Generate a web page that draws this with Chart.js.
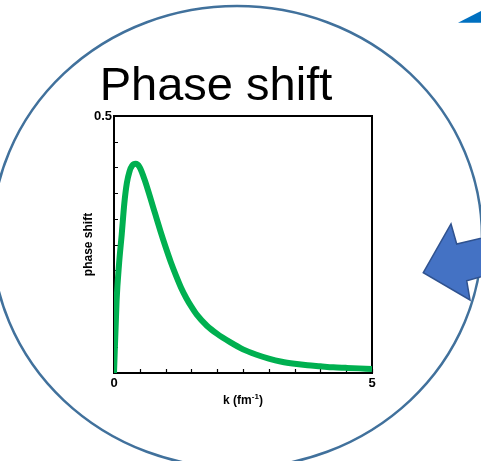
<!DOCTYPE html>
<html>
<head>
<meta charset="utf-8">
<script src="https://cdn.jsdelivr.net/npm/chart.js@4.4.1/dist/chart.umd.min.js"></script>
<style>
  html, body { margin: 0; padding: 0; background: #ffffff; }
  #wrap { width: 481px; height: 461px; position: relative; }
</style>
</head>
<body>
<div id="wrap"><canvas id="c" width="481" height="461"></canvas></div>
<script>
// Wave number k (fm^-1) and phase shift
const kValues = [0, 0.05, 0.1, 0.15, 0.2, 0.25, 0.3, 0.35, 0.42, 0.5, 0.6, 0.7, 0.8, 0.9, 1.0, 1.1, 1.2, 1.3, 1.4, 1.5, 1.6, 1.8, 2.0, 2.25, 2.5, 2.75, 3.0, 3.25, 3.5, 3.75, 4.0, 4.25, 4.5, 4.75, 5.0];
const phaseValues = [0, 0.14, 0.215, 0.27, 0.33, 0.37, 0.392, 0.403, 0.407, 0.400, 0.374, 0.342, 0.309, 0.276, 0.245, 0.216, 0.190, 0.166, 0.146, 0.129, 0.114, 0.092, 0.076, 0.06, 0.046, 0.036, 0.028, 0.022, 0.018, 0.015, 0.013, 0.011, 0.010, 0.009, 0.008];

// Labelled tick values
const xLabelValues = [0, 5];
const yLabelValues = [0.5];

const titleText = 'Phase shift';
const xTitleMain = 'k (fm';
const xTitleSup = '-1';
const yTitleText = 'phase shift';

const points = kValues.map((k, i) => ({ x: k, y: phaseValues[i] }));

// Background decoration: oval outline, arrows and the heading
const decor = {
  id: 'decor',
  beforeDraw(chart) {
    const ctx = chart.ctx;
    ctx.save();
    ctx.fillStyle = '#ffffff';
    ctx.fillRect(0, 0, chart.width, chart.height);

    // oval outline
    ctx.beginPath();
    ctx.ellipse(237, 237, 245, 231, 0, 0, Math.PI * 2);
    ctx.strokeStyle = '#41719C';
    ctx.lineWidth = 2.5;
    ctx.stroke();

    // block arrow pointing down-left
    ctx.beginPath();
    ctx.moveTo(423.3, 272.7);
    ctx.lineTo(451, 224);
    ctx.lineTo(456.7, 244);
    ctx.lineTo(500, 233.8);
    ctx.lineTo(500, 271.4);
    ctx.lineTo(466.7, 280.7);
    ctx.lineTo(470, 300);
    ctx.closePath();
    ctx.fillStyle = '#4472C4';
    ctx.fill();
    ctx.strokeStyle = '#2F528F';
    ctx.lineWidth = 1.5;
    ctx.lineJoin = 'miter';
    ctx.stroke();

    // corner wedge
    ctx.beginPath();
    ctx.moveTo(458, 22.7);
    ctx.lineTo(481, 11);
    ctx.lineTo(481, 22.7);
    ctx.closePath();
    ctx.fillStyle = '#0070C0';
    ctx.fill();

    // heading
    ctx.fillStyle = '#000000';
    ctx.font = '47px "Liberation Sans", Arial, sans-serif';
    ctx.textAlign = 'center';
    ctx.textBaseline = 'alphabetic';
    ctx.fillText(titleText, 216, 100);
    ctx.restore();
  },
  beforeDatasetsDraw(chart) {
    const ctx = chart.ctx;
    const a = chart.chartArea;
    const xs = chart.scales.x;
    const ys = chart.scales.y;
    ctx.save();
    ctx.strokeStyle = '#000000';
    // inward tick marks
    ctx.lineWidth = 1.2;
    ctx.beginPath();
    ys.ticks.forEach(t => {
      const py = Math.round(ys.getPixelForValue(t.value)) + 0.5;
      ctx.moveTo(a.left, py);
      ctx.lineTo(a.left + 4, py);
    });
    xs.ticks.forEach(t => {
      const px = Math.round(xs.getPixelForValue(t.value)) + 0.5;
      ctx.moveTo(px, a.bottom);
      ctx.lineTo(px, a.bottom - 4);
    });
    ctx.stroke();
    // frame
    ctx.lineWidth = 2;
    ctx.strokeRect(a.left, a.top, a.right - a.left, a.bottom - a.top);
    ctx.restore();
  },
  afterDraw(chart) {
    const ctx = chart.ctx;
    const xs = chart.scales.x;
    ctx.save();
    ctx.fillStyle = '#000000';
    ctx.textBaseline = 'middle';
    ctx.textAlign = 'left';
    const mainFont = 'bold 12px "Liberation Sans", Arial, sans-serif';
    const supFont = 'bold 8px "Liberation Sans", Arial, sans-serif';
    ctx.font = mainFont;
    const w1 = ctx.measureText(xTitleMain).width;
    const w3 = ctx.measureText(')').width;
    ctx.font = supFont;
    const w2 = ctx.measureText(xTitleSup).width;
    const total = w1 + w2 + w3;
    const cx = (xs.left + xs.right) / 2;
    let x0 = cx - total / 2;
    const yMid = 401;
    ctx.font = mainFont;
    ctx.fillText(xTitleMain, x0, yMid);
    ctx.font = supFont;
    ctx.fillText(xTitleSup, x0 + w1, yMid - 4);
    ctx.font = mainFont;
    ctx.fillText(')', x0 + w1 + w2, yMid);
    ctx.restore();
  }
};

new Chart(document.getElementById('c'), {
  type: 'line',
  data: {
    datasets: [{
      data: points,
      borderColor: '#00B050',
      borderWidth: 6,
      pointRadius: 0,
      fill: false,
      cubicInterpolationMode: 'monotone',
      borderCapStyle: 'butt',
      borderJoinStyle: 'round'
    }]
  },
  options: {
    responsive: false,
    animation: false,
    devicePixelRatio: 1,
    layout: { padding: { left: 81, right: 109, top: 116, bottom: 48 } },
    plugins: { legend: { display: false }, tooltip: { enabled: false }, title: { display: false } },
    scales: {
      x: {
        type: 'linear',
        min: 0,
        max: 5,
        grid: { display: false, drawTicks: false },
        border: { display: false },
        ticks: {
          stepSize: 0.5,
          autoSkip: false,
          maxRotation: 0,
          padding: 3,
          color: '#000000',
          font: { family: '"Liberation Sans", Arial, sans-serif', size: 13, weight: 'bold' },
          callback: v => xLabelValues.includes(v) ? String(v) : ''
        },
        afterFit: s => { s.height = 40; }
      },
      y: {
        type: 'linear',
        min: 0,
        max: 0.5,
        grid: { display: false, drawTicks: false },
        border: { display: false },
        title: {
          display: true,
          text: yTitleText,
          color: '#000000',
          padding: { top: 0, bottom: 0 },
          font: { family: '"Liberation Sans", Arial, sans-serif', size: 12, weight: 'bold' }
        },
        ticks: {
          stepSize: 0.05,
          autoSkip: false,
          padding: 2,
          color: '#000000',
          font: { family: '"Liberation Sans", Arial, sans-serif', size: 13, weight: 'bold' },
          callback: v => yLabelValues.some(t => Math.abs(t - v) < 1e-9) ? String(v) : ''
        },
        afterFit: s => { s.width = 33; }
      }
    }
  },
  plugins: [decor]
});
</script>
</body>
</html>
